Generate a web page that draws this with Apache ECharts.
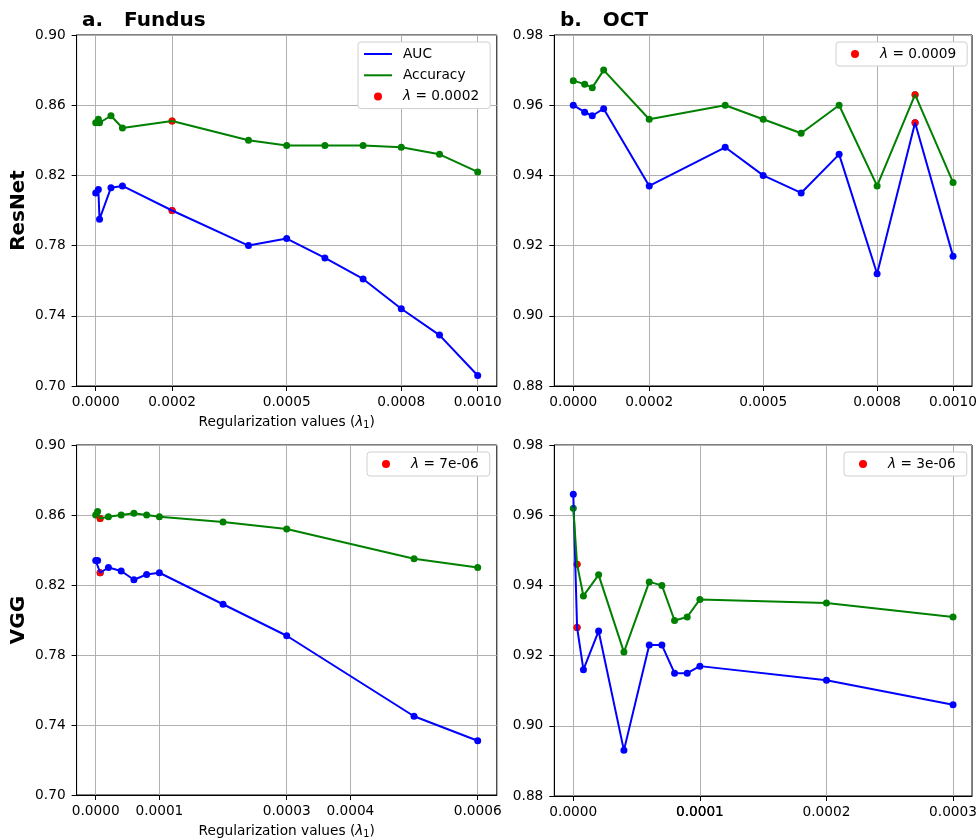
<!DOCTYPE html>
<html>
<head>
<meta charset="utf-8">
<script src="https://cdn.jsdelivr.net/npm/echarts@6/dist/echarts.min.js"></script>
<style>
  html, body { margin: 0; padding: 0; background: #fff; }
  #chart { width: 980px; height: 840px; }
</style>
</head>
<body>
<div id="chart"></div>
<script>
// a. Fundus / ResNet
var xFundusResNet = [0, 0.000007, 0.00001, 0.00004, 0.00007, 0.0002, 0.0004, 0.0005, 0.0006, 0.0007, 0.0008, 0.0009, 0.001]
var aucFundusResNet = [0.810, 0.812, 0.795, 0.813, 0.814, 0.800, 0.780, 0.784, 0.773, 0.761, 0.744, 0.729, 0.706]
var accFundusResNet = [0.850, 0.852, 0.850, 0.854, 0.847, 0.851, 0.840, 0.837, 0.837, 0.837, 0.836, 0.832, 0.822]
var bestFundusResNet = 0.0002

// b. OCT / ResNet
var xOctResNet = [0, 0.00003, 0.00005, 0.00008, 0.0002, 0.0004, 0.0005, 0.0006, 0.0007, 0.0008, 0.0009, 0.001]
var aucOctResNet = [0.960, 0.958, 0.957, 0.959, 0.937, 0.948, 0.940, 0.935, 0.946, 0.912, 0.955, 0.917]
var accOctResNet = [0.967, 0.966, 0.965, 0.970, 0.956, 0.960, 0.956, 0.952, 0.960, 0.937, 0.963, 0.938]
var bestOctResNet = 0.0009

// c. Fundus / VGG
var xFundusVgg = [0, 0.000003, 0.000007, 0.00002, 0.00004, 0.00006, 0.00008, 0.0001, 0.0002, 0.0003, 0.0005, 0.0006]
var aucFundusVgg = [0.834, 0.834, 0.827, 0.830, 0.828, 0.823, 0.826, 0.827, 0.809, 0.791, 0.745, 0.731]
var accFundusVgg = [0.860, 0.862, 0.858, 0.859, 0.860, 0.861, 0.860, 0.859, 0.856, 0.852, 0.835, 0.830]
var bestFundusVgg = 0.000007

// d. OCT / VGG
var xOctVgg = [0, 0.000003, 0.000008, 0.00002, 0.00004, 0.00006, 0.00007, 0.00008, 0.00009, 0.0001, 0.0002, 0.0003]
var aucOctVgg = [0.966, 0.928, 0.916, 0.927, 0.893, 0.923, 0.923, 0.915, 0.915, 0.917, 0.913, 0.906]
var accOctVgg = [0.962, 0.946, 0.937, 0.943, 0.921, 0.941, 0.940, 0.930, 0.931, 0.936, 0.935, 0.931]
var bestOctVgg = 0.000003

// tick labels
var xTicksResNet = [0, 0.0002, 0.0005, 0.0008, 0.001]
var xTicksFundusVgg = [0, 0.0001, 0.0003, 0.0004, 0.0006]
var xTicksOctVgg = [0, 0.0001, 0.0001, 0.0002, 0.0003]
var yTicksFundus = [0.70, 0.74, 0.78, 0.82, 0.86, 0.90]
var yTicksOct = [0.88, 0.90, 0.92, 0.94, 0.96, 0.98]

var bestLabels = ['λ = 0.0002', 'λ = 0.0009', 'λ = 7e-06', 'λ = 3e-06']

var FONT = 'DejaVu Sans'
var BLUE = '#0000ff'
var GREEN = '#008000'
var RED = '#ff0000'
// round dot centred in a 28x8 legend handle (corner moves keep the box size)
var DOT_ICON = 'path://M0,0L0,0M28,8L28,8M18,4A4,4,0,1,1,10,4A4,4,0,1,1,18,4Z'

function pairs(xs, ys) {
  return xs.map(function(x, i) { return [x, ys[i]] })
}

function bestPoints(xs, auc, acc, best) {
  var i = xs.indexOf(best)
  return [[xs[i], auc[i]], [xs[i], acc[i]]]
}

var panels = [
  { x: xFundusResNet, auc: aucFundusResNet, acc: accFundusResNet, best: bestFundusResNet, xTicks: xTicksResNet, yTicks: yTicksFundus, xMax: 0.001, yName: 'ResNet', xName: true },
  { x: xOctResNet, auc: aucOctResNet, acc: accOctResNet, best: bestOctResNet, xTicks: xTicksResNet, yTicks: yTicksOct, xMax: 0.001, yName: '', xName: false },
  { x: xFundusVgg, auc: aucFundusVgg, acc: accFundusVgg, best: bestFundusVgg, xTicks: xTicksFundusVgg, yTicks: yTicksFundus, xMax: 0.0006, yName: 'VGG', xName: true },
  { x: xOctVgg, auc: aucOctVgg, acc: accOctVgg, best: bestOctVgg, xTicks: xTicksOctVgg, yTicks: yTicksOct, xMax: 0.0003, yName: '', xName: false }
]

var gridPos = [
  { left: 76.6, top: 35 },
  { left: 554.3, top: 35 },
  { left: 76.6, top: 445 },
  { left: 554.3, top: 445 }
]

var grids = [], xAxes = [], yAxes = [], series = [], legends = []

panels.forEach(function(p, k) {
  grids.push({
    left: gridPos[k].left, top: gridPos[k].top, width: 420.2, height: 351,
    show: true, borderColor: '#000', borderWidth: 1, backgroundColor: 'transparent'
  })
  var pad = p.xMax * 0.05
  xAxes.push({
    gridIndex: k, type: 'value', min: -pad, max: p.xMax + pad,
    name: p.xName ? '{a|Regularization values (}{l|λ}{s|1}{a|)}' : '',
    nameLocation: 'middle', nameGap: 28,
    nameTextStyle: {
      rich: {
        a: { fontFamily: FONT, fontSize: 13.7, color: '#000', lineHeight: 16, verticalAlign: 'middle' },
        l: { fontFamily: FONT, fontSize: 13.7, fontStyle: 'italic', color: '#000', lineHeight: 16, verticalAlign: 'middle' },
        s: { fontFamily: FONT, fontSize: 9.6, color: '#000', lineHeight: 10, verticalAlign: 'bottom' }
      }
    },
    axisLine: { show: true, onZero: false, lineStyle: { color: '#000', width: 1 } },
    axisTick: { show: true, length: 5, customValues: p.xTicks, lineStyle: { color: '#000' } },
    axisLabel: {
      customValues: p.xTicks, margin: 9, fontFamily: FONT, fontSize: 13.7, color: '#000',
      formatter: function(v) { return v.toFixed(4) }
    },
    splitLine: { show: true, lineStyle: { color: '#b0b0b0', width: 1 } }
  })
  yAxes.push({
    gridIndex: k, type: 'value', min: p.yTicks[0], max: p.yTicks[p.yTicks.length - 1],
    name: p.yName, nameLocation: 'middle', nameRotate: 90, nameGap: 48,
    nameTextStyle: { fontFamily: FONT, fontSize: 20, fontWeight: 'bold', color: '#000' },
    axisLine: { show: true, onZero: false, lineStyle: { color: '#000', width: 1 } },
    axisTick: { show: true, length: 5, customValues: p.yTicks, lineStyle: { color: '#000' } },
    axisLabel: {
      customValues: p.yTicks, margin: 11, fontFamily: FONT, fontSize: 13.7, color: '#000',
      formatter: function(v) { return v.toFixed(2) }
    },
    splitLine: { show: true, lineStyle: { color: '#b0b0b0', width: 1 } }
  })

  var auc = pairs(p.x, p.auc)
  var acc = pairs(p.x, p.acc)
  series.push(
    { name: 'AUC', type: 'line', xAxisIndex: k, yAxisIndex: k, data: auc, symbol: 'none',
      lineStyle: { color: BLUE, width: 2 }, itemStyle: { color: BLUE } },
    { name: 'Accuracy', type: 'line', xAxisIndex: k, yAxisIndex: k, data: acc, symbol: 'none',
      lineStyle: { color: GREEN, width: 2 }, itemStyle: { color: GREEN } },
    { name: 'AUC points', type: 'scatter', xAxisIndex: k, yAxisIndex: k, data: auc,
      symbolSize: 7, itemStyle: { color: BLUE, opacity: 1 } },
    { name: 'Accuracy points', type: 'scatter', xAxisIndex: k, yAxisIndex: k, data: acc,
      symbolSize: 7, itemStyle: { color: GREEN, opacity: 1 } },
    { name: bestLabels[k], type: 'scatter', xAxisIndex: k, yAxisIndex: k,
      data: bestPoints(p.x, p.auc, p.acc, p.best), symbolSize: 7,
      itemStyle: { color: RED, opacity: 1 } }
  )
})

var legendLeft = [358, 836, 367, 844]
var legendTop = [42, 42, 452, 452]

legendLeft.forEach(function(left, k) {
  var items = k === 0
    ? [{ name: 'AUC', itemStyle: { opacity: 0 } }, { name: 'Accuracy', itemStyle: { opacity: 0 } }, { name: bestLabels[0], icon: DOT_ICON }]
    : [{ name: bestLabels[k], icon: DOT_ICON }]
  legends.push({
    orient: 'vertical', left: left, top: legendTop[k], align: 'left',
    data: items,
    itemWidth: 28, itemHeight: 8, itemGap: 5.3,
    backgroundColor: '#fff', borderColor: '#d0d0d0', borderWidth: 1, borderRadius: 3,
    padding: [4, 11, 4, 5],
    selectedMode: false,
    textStyle: {
      fontFamily: FONT, fontSize: 13.7, color: '#000', lineHeight: 16, padding: [0, 0, 0, 6],
      rich: { i: { fontFamily: FONT, fontSize: 13.7, fontStyle: 'italic', color: '#000', lineHeight: 16 } }
    },
    formatter: function(name) {
      return name.charAt(0) === 'λ' ? '{i|λ}' + name.slice(1) : name
    }
  })
})

var chart = echarts.init(document.getElementById('chart'))
chart.setOption({
  animation: false,
  backgroundColor: '#fff',
  title: [
    { text: 'a.   Fundus', left: 77, top: 6, textStyle: { fontFamily: FONT, fontSize: 20, fontWeight: 'bold', color: '#000' } },
    { text: 'b.   OCT', left: 555, top: 6, textStyle: { fontFamily: FONT, fontSize: 20, fontWeight: 'bold', color: '#000' } }
  ],
  legend: legends,
  grid: grids,
  xAxis: xAxes,
  yAxis: yAxes,
  series: series
})
</script>
</body>
</html>
